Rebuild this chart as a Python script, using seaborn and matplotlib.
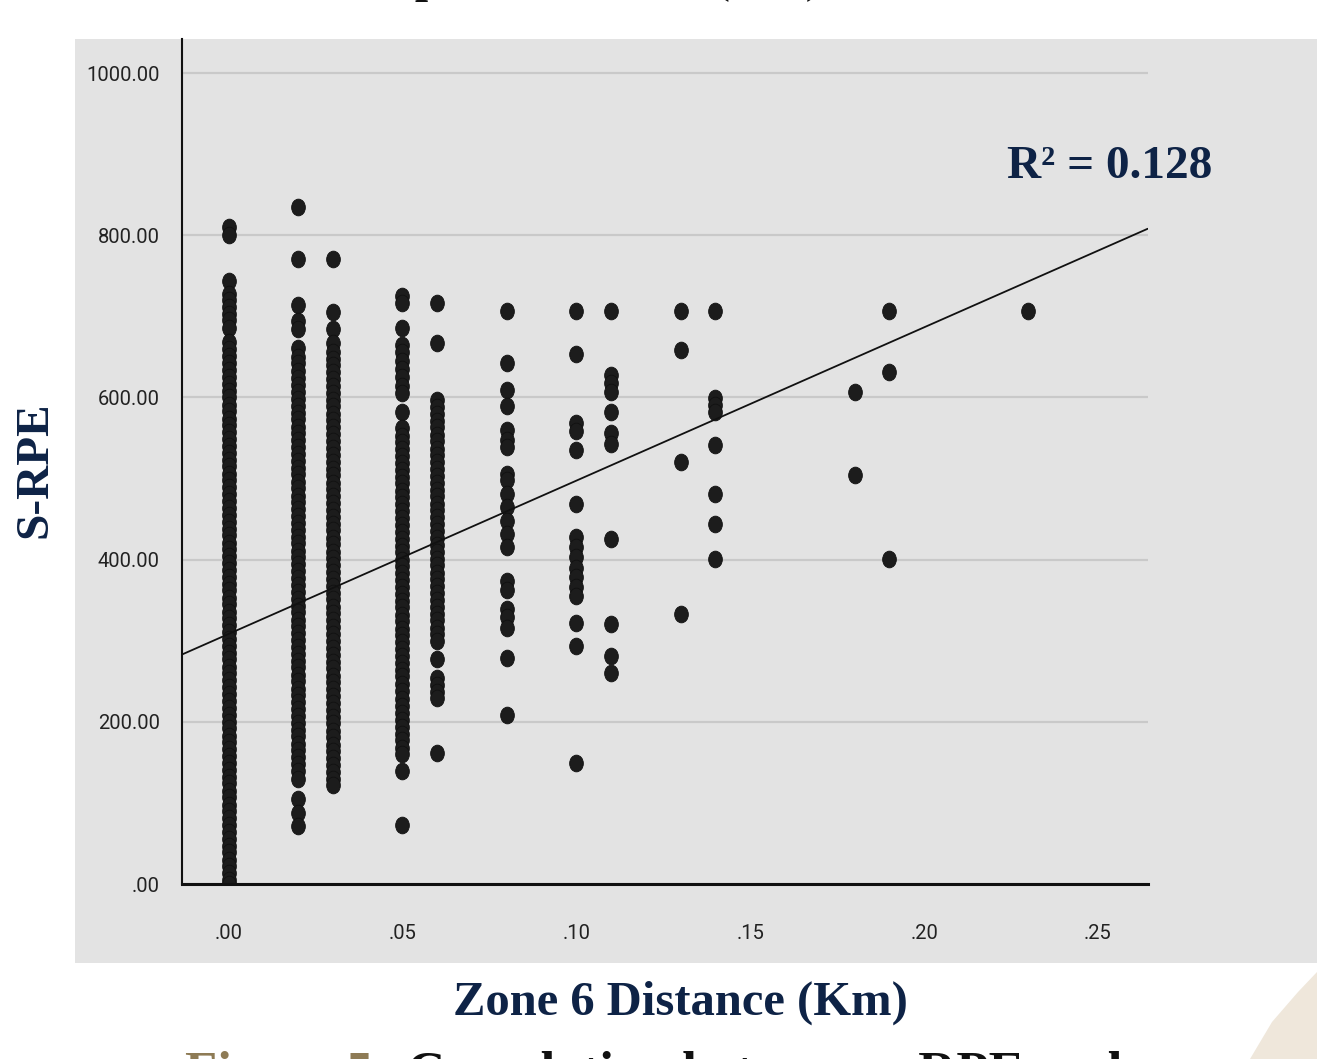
import numpy as np
import pandas as pd
import matplotlib
matplotlib.use("Agg")
import matplotlib.pyplot as plt
import seaborn as sns
from matplotlib.path import Path
from matplotlib.patches import Rectangle, Polygon

# ---------------- data ----------------
zone6_km = [0.00, 0.02, 0.03, 0.05, 0.06, 0.08, 0.10, 0.11, 0.13, 0.14, 0.18, 0.19, 0.23]

srpe_000 = [810, 800, 743, 728, 720, 712, 703, 695, 686, 668, 660, 651, 642, 634, 625, 617,
            608, 600, 591, 583, 574, 566, 557, 549, 540, 532, 523, 515, 506, 498, 489, 481,
            472, 464, 455, 447, 438, 430, 421, 413, 404, 396, 387, 379, 370, 362, 353, 345,
            336, 328, 319, 311, 302, 294, 285, 277, 268, 260, 251, 243, 234, 226, 217, 209,
            200, 192, 183, 175, 166, 158, 149, 141, 132, 124, 115, 107, 98, 90, 81, 73, 64,
            56, 47, 39, 30, 22, 13, 5, 0]
srpe_002 = [835, 771, 714, 694, 684, 661, 650, 643, 632, 624, 615, 607, 598, 590, 581, 573,
            564, 556, 547, 539, 530, 522, 513, 505, 496, 488, 479, 471, 462, 454, 445, 437,
            428, 420, 411, 403, 394, 386, 377, 369, 360, 352, 343, 335, 326, 318, 309, 301,
            292, 284, 275, 267, 258, 250, 241, 233, 224, 216, 207, 199, 190, 182, 173, 165,
            156, 148, 139, 130, 105, 87, 71]
srpe_003 = [771, 705, 684, 667, 656, 648, 640, 631, 623, 614, 606, 597, 589, 580, 572, 563,
            555, 546, 538, 529, 521, 512, 504, 495, 487, 478, 470, 461, 453, 444, 436, 427,
            419, 410, 402, 393, 385, 376, 368, 359, 351, 342, 334, 325, 317, 308, 300, 291,
            283, 274, 266, 257, 249, 240, 232, 223, 215, 206, 198, 189, 181, 172, 164, 155,
            147, 138, 130, 122]
srpe_005 = [725, 716, 686, 665, 656, 645, 635, 625, 614, 605, 582, 562, 553, 545, 536, 528,
            519, 511, 502, 494, 485, 477, 468, 460, 451, 443, 434, 426, 417, 409, 400, 392,
            383, 375, 366, 358, 349, 341, 332, 324, 315, 307, 298, 290, 281, 273, 264, 256,
            247, 238, 228, 219, 211, 202, 194, 185, 177, 168, 160, 139, 73]
srpe_006 = [717, 667, 597, 588, 580, 571, 563, 554, 546, 537, 529, 520, 512, 503, 495, 486,
            478, 469, 461, 452, 444, 435, 427, 418, 410, 401, 393, 384, 376, 367, 359, 350,
            342, 333, 325, 316, 308, 300, 277, 254, 245, 237, 229, 161]
srpe_008 = [707, 642, 609, 589, 560, 547, 539, 506, 498, 481, 465, 448, 432, 415, 374, 362,
            339, 329, 316, 279, 209]
srpe_010 = [707, 653, 568, 558, 535, 469, 428, 415, 403, 390, 378, 366, 355, 322, 293, 149]
srpe_011 = [707, 628, 618, 607, 582, 556, 543, 426, 320, 281, 260]
srpe_013 = [707, 659, 520, 333]
srpe_014 = [707, 599, 591, 582, 541, 481, 444, 401]
srpe_018 = [607, 504]
srpe_019 = [707, 631, 401]
srpe_023 = [707]

srpe_columns = [srpe_000, srpe_002, srpe_003, srpe_005, srpe_006, srpe_008, srpe_010,
                srpe_011, srpe_013, srpe_014, srpe_018, srpe_019, srpe_023]

x_ticks = [0.00, 0.05, 0.10, 0.15, 0.20, 0.25]
x_tick_labels = [".00", ".05", ".10", ".15", ".20", ".25"]
y_ticks = [0, 200, 400, 600, 800, 1000]
y_tick_labels = [".00", "200.00", "400.00", "600.00", "800.00", "1000.00"]

fit_x = [-0.0134, 0.2643]     # fitted line end points
fit_y = [283, 808]
r2_label = "R² = 0.128"

x_label = "Zone 6 Distance (Km)"
y_label = "S-RPE"
caption_head = "Figure 5:"
caption_rest = "Correlation between s-RPE and"
top_title = "S-RPE and Sprint Distance (Km)"

# ---------------- table ----------------
xs, ys = [], []
for xv, col in zip(zone6_km, srpe_columns):
    xs += [xv] * len(col)
    ys += col
df = pd.DataFrame({"Zone 6 Distance (Km)": xs, "S-RPE": ys})

# ---------------- style ----------------
sns.set_style("white")
plt.rcParams["font.family"] = ["DejaVu Sans"]

W, H = 1317, 1059
fig = plt.figure(figsize=(W / 100, H / 100), dpi=100)
fig.patch.set_facecolor("white")

def fx(px):
    return px / W

def fy(py):
    return 1 - py / H

panel_grey = "#e3e3e3"
navy = "#0e2346"

# grey panel behind the chart
fig.patches.append(Rectangle((fx(75), fy(963)), 1 - fx(75), fy(39) - fy(963),
                             transform=fig.transFigure, facecolor=panel_grey,
                             edgecolor="none", zorder=-2))
# beige decoration at bottom right
fig.patches.append(Polygon([(fx(1317), fy(972)), (fx(1298), fy(992)), (fx(1272), fy(1022)),
                            (fx(1250), fy(1059)), (fx(1317), fy(1059))],
                           closed=True, transform=fig.transFigure,
                           facecolor="#efe7db", edgecolor="none", zorder=-2))

ax = fig.add_axes([fx(182), fy(884), fx(1147.7) - fx(182), fy(39) - fy(884)])
ax.set_zorder(2)
ax.set_facecolor(panel_grey)

# elliptical marker (dots look slightly taller than wide)
circ = Path.unit_circle()
ell = Path(circ.vertices * np.array([0.82, 1.0]), circ.codes)

sns.scatterplot(data=df, x="Zone 6 Distance (Km)", y="S-RPE", ax=ax,
                marker=ell, s=145, color="#1c1c1c", edgecolor="#111111",
                linewidth=0.6, zorder=3)
sns.lineplot(x=fit_x, y=fit_y, ax=ax, color="#111111", lw=1.3, zorder=4)

ax.set_xlim(-0.0134, 0.2643)
ax.set_ylim(0, 1042)
ax.set_xticks(x_ticks)
ax.set_xticklabels(x_tick_labels)
ax.set_yticks(y_ticks)
ax.set_yticklabels(y_tick_labels)
ax.set_xlabel("")
ax.set_ylabel("")

ax.yaxis.grid(True, color="#c9c9c9", lw=1.6, zorder=1)
ax.xaxis.grid(False)
ax.set_axisbelow(True)

for s in ["top", "right"]:
    ax.spines[s].set_visible(False)
ax.spines["left"].set_color("#111111")
ax.spines["left"].set_linewidth(1.5)
ax.spines["bottom"].set_color("#111111")
ax.spines["bottom"].set_linewidth(2.2)
ax.spines["left"].set_zorder(5)
ax.spines["bottom"].set_zorder(5)

tick_font = ["Roboto", "DejaVu Sans"]
ax.tick_params(axis="y", direction="out", length=8, width=1.5, color="#c9c9c9",
               pad=8, labelsize=14.5, labelcolor="#222222")
ax.tick_params(axis="x", direction="out", length=10, width=1.0, color="#c9c9c9",
               pad=19, labelsize=14.5, labelcolor="#222222")
for lab in ax.get_xticklabels() + ax.get_yticklabels():
    lab.set_family(tick_font)

serif = ["Liberation Serif", "DejaVu Serif"]

fig.text(fx(1007), fy(178), r2_label, ha="left", va="baseline",
         fontsize=34, fontweight="bold", family=serif, color=navy, zorder=5)

fig.text(fx(680), fy(1015), x_label, ha="center", va="baseline", fontsize=35,
         fontweight="bold", family=serif, color=navy)
fig.text(fx(35), fy(470), y_label, ha="center", va="center", rotation=90, fontsize=34,
         fontweight="bold", family=serif, color=navy)

# partly cut title at the very top
fig.text(fx(822), fy(-8), top_title, ha="right", va="baseline", fontsize=34,
         fontweight="bold", family=serif, color="#111111")

# caption partly cut at the bottom
t1 = fig.text(fx(185), fy(1088), caption_head, ha="left", va="baseline", fontsize=38,
              fontweight="bold", family=serif, color="#8e7b55")
fig.canvas.draw()
bb = t1.get_window_extent(renderer=fig.canvas.get_renderer())
fig.text(bb.x1 / W + fx(16), fy(1088), caption_rest, ha="left", va="baseline", fontsize=38,
         fontweight="bold", family=serif, color="#111111")

fig.savefig("out.png", dpi=100, facecolor="white")
